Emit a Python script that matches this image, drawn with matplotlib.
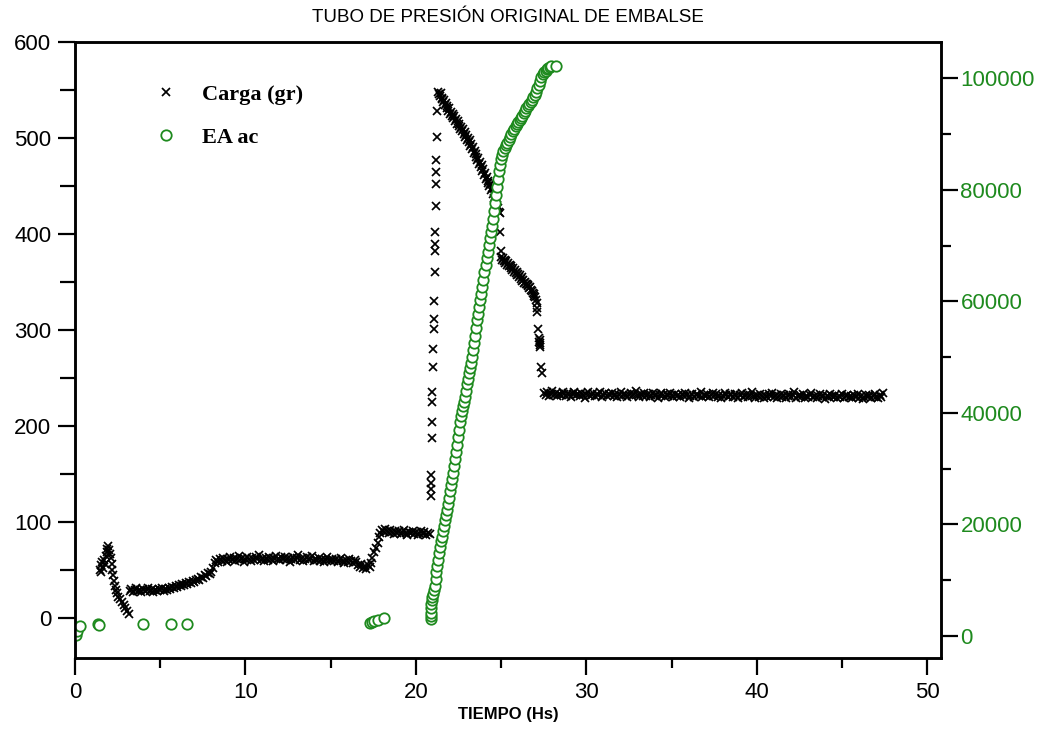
import numpy as np
import matplotlib
matplotlib.use('Agg')
import matplotlib.pyplot as plt
from matplotlib.ticker import MultipleLocator

plt.rcParams['font.family'] = ['Liberation Sans', 'DejaVu Sans']

GREEN = '#1e8a1e'

# ---------------- Carga (gr) ----------------
# irregular stretches, (tiempo, carga)
t_bump = [1.45, 1.5, 1.55, 1.6, 1.65, 1.7, 1.75, 1.8, 1.85, 1.9, 1.95,
          2.0, 2.05, 2.1, 2.15, 2.2, 2.25, 2.3, 2.35, 2.4, 2.45, 2.55,
          2.65, 2.75, 2.85, 2.95, 3.05, 3.15]
c_bump = [50, 55, 48, 58, 52, 60, 56, 64, 68, 72, 75,
          70, 66, 62, 56, 50, 44, 38, 33, 29, 26, 22,
          19, 16, 13, 10, 7, 4]

t_step1 = [16.6, 16.7, 16.8, 16.9, 17.0, 17.1, 17.2, 17.3,
           17.35, 17.45, 17.55, 17.65, 17.75, 17.85]
c_step1 = [55, 53, 56, 52, 54, 51, 55, 53,
           57, 62, 68, 73, 78, 84]

t_spike = [20.86, 20.87, 20.88, 20.9, 20.93, 20.94, 20.96, 20.97, 21.0,
           21.02, 21.03, 21.04, 21.06, 21.09, 21.1, 21.11, 21.13, 21.16,
           21.18, 21.19, 21.2, 21.23, 21.26, 21.28]
c_spike = [127, 134, 140, 149, 187, 204, 225, 235, 261,
           280, 301, 311, 330, 360, 382, 389, 402, 429,
           452, 464, 477, 501, 528, 548]

t_fall = [21.35, 21.4, 21.45, 21.5, 21.55, 21.6, 21.65, 21.7, 21.75, 21.8,
          21.85, 21.9, 21.95, 22.0, 22.05, 22.1, 22.15, 22.2, 22.25, 22.3,
          22.35, 22.4, 22.45, 22.5, 22.55, 22.6, 22.65, 22.7, 22.75, 22.8,
          22.85, 22.9, 22.95, 23.0, 23.05, 23.1, 23.15, 23.2, 23.25, 23.3,
          23.35, 23.4, 23.45, 23.5, 23.55, 23.6, 23.65, 23.7, 23.75, 23.8,
          23.85, 23.9, 23.95, 24.0, 24.05, 24.1, 24.15, 24.2, 24.25, 24.3,
          24.35, 24.4, 24.45, 24.5, 24.55, 24.6, 24.65, 24.7, 24.75, 24.8,
          24.85, 24.92, 24.95, 24.98]
c_fall = [545, 543, 546, 540, 541, 537, 539, 534, 536, 531,
          533, 528, 531, 525, 527, 522, 525, 520, 522, 517,
          519, 514, 517, 512, 514, 509, 511, 507, 509, 504,
          506, 501, 503, 498, 500, 495, 497, 491, 493, 488,
          490, 484, 486, 480, 483, 477, 479, 473, 475, 469,
          471, 465, 467, 461, 463, 457, 459, 453, 455, 450,
          452, 445, 447, 441, 443, 437, 439, 433, 430, 427,
          423, 421, 402, 382]

t_drop = [27.08, 27.09, 27.1, 27.15, 27.22, 27.24, 27.25, 27.26, 27.27,
          27.28, 27.35, 27.37]
c_drop = [328, 322, 318, 301, 291, 287, 284, 289, 282,
          286, 261, 255]

# regular logger stretches: (start time, step, values)
c_low = [28, 30, 27, 29, 31, 28, 29, 27, 30, 28,
         29, 31, 28, 30, 27, 29, 28, 30, 29, 31,
         28, 30, 29, 31, 30, 32, 31, 33, 32, 34,
         33, 35, 34, 36, 35, 37, 36, 38, 37, 39,
         40, 39, 42, 41, 44, 43, 46, 45, 48, 52]          # from 3.2 h
c_60 = [57, 60, 58, 61, 59, 62, 60, 58, 61, 63,
        60, 62, 59, 61, 64, 60, 62, 58, 61, 63,
        61, 59, 62, 60, 63, 61, 65, 60, 62, 59,
        62, 60, 63, 61, 59, 62, 64, 61, 60, 63,
        61, 63, 60, 62, 58, 61, 63, 60, 62, 65,
        60, 62, 59, 61, 63, 60, 62, 64, 59, 61,
        60, 62, 59, 61, 58, 60, 63, 60, 59, 61,
        59, 61, 58, 60, 62, 59, 57, 60, 58, 61,
        59, 57, 60, 58]                                   # from 8.2 h
c_88 = [88, 91, 89, 92, 90, 88, 91, 89, 87, 90,
        88, 90, 87, 89, 91, 88, 86, 89, 88, 90,
        87, 89, 86, 88, 90, 87, 89, 86, 88, 87]           # from 17.9 h
c_370 = [376, 373, 375, 371, 372, 369, 371, 367, 369, 366,
         367, 364, 366, 362, 364, 360, 362, 359, 360, 357,
         358, 355, 357, 353, 355, 351, 352, 349, 350, 347,
         348, 345, 346, 343, 344, 341, 340, 338, 337, 335,
         334, 331]                                        # from 25.0 h, 0.05 step
c_232 = [234, 232, 235, 231, 233, 236, 232, 234, 231, 233,
         232, 235, 233, 231, 234, 232, 230, 233, 235, 232,
         233, 231, 234, 232, 229, 233, 235, 231, 232, 234,
         231, 233, 232, 235, 230, 232, 234, 231, 233, 232,
         234, 231, 233, 230, 232, 235, 231, 233, 232, 230,
         232, 234, 231, 233, 236, 232, 230, 233, 231, 234,
         231, 233, 230, 232, 234, 231, 233, 229, 232, 234,
         232, 230, 233, 231, 234, 232, 230, 233, 231, 232,
         230, 233, 231, 234, 232, 229, 231, 233, 230, 232,
         233, 231, 235, 230, 232, 231, 233, 230, 232, 234,
         231, 233, 230, 232, 229, 231, 234, 232, 230, 233,
         232, 230, 233, 231, 229, 232, 234, 230, 231, 233,
         230, 232, 235, 231, 229, 232, 230, 233, 231, 229,
         232, 230, 233, 231, 234, 230, 232, 229, 231, 233,
         230, 232, 229, 231, 233, 230, 232, 235, 229, 231,
         232, 230, 233, 229, 231, 230, 232, 234, 230, 231,
         229, 231, 233, 230, 232, 228, 231, 230, 233, 231,
         230, 232, 229, 231, 230, 233, 229, 231, 232, 230,
         231, 229, 232, 230, 233, 229, 231, 228, 230, 232,
         230, 232, 229, 231, 233, 230, 229, 232, 230, 234]  # from 27.5 h

logged = [(3.2, 0.1, c_low), (8.2, 0.1, c_60), (17.9, 0.1, c_88),
          (25.0, 0.05, c_370), (27.5, 0.1, c_232)]

# ---------------- EA acumulada ----------------
t_ea = [0.08, 0.1, 0.3, 1.37, 1.42, 3.97, 5.63, 6.55,
        17.3, 17.45, 17.55, 17.75, 18.15,
        20.86, 20.87, 20.88, 20.89, 20.9, 20.92, 20.96, 21.0, 21.05, 21.1,
        21.15, 21.2, 21.25, 21.3, 21.35, 21.4, 21.45, 21.5, 21.56, 21.62,
        21.68, 21.74, 21.8, 21.86, 21.92, 21.98, 22.04, 22.1, 22.16, 22.22,
        22.28, 22.34, 22.4, 22.46, 22.52, 22.58, 22.64, 22.7, 22.76, 22.82,
        22.88, 22.94, 23.0, 23.06, 23.12, 23.18, 23.24, 23.3, 23.36, 23.42,
        23.48, 23.54, 23.6, 23.66, 23.72, 23.78, 23.84, 23.9, 23.96, 24.02,
        24.08, 24.14, 24.2, 24.26, 24.32, 24.38, 24.44, 24.5, 24.56, 24.62,
        24.68, 24.74, 24.8, 24.86, 24.92, 24.98, 25.05, 25.12, 25.2, 25.28,
        25.36, 25.44, 25.52, 25.6, 25.68, 25.76, 25.84, 25.92, 26.0, 26.08,
        26.16, 26.24, 26.32, 26.4, 26.48, 26.56, 26.64, 26.72, 26.8, 26.88,
        26.96, 27.04, 27.12, 27.2, 27.28, 27.36, 27.44, 27.52, 27.6, 27.68,
        27.76, 27.84, 27.92, 28.2]
ea = [150, 800, 1700, 2100, 2000, 2100, 2100, 2100,
      2300, 2500, 2600, 2900, 3300,
      3000, 3500, 4200, 5000, 5800, 6500, 7000, 7600, 8300, 9000,
      10200, 11400, 12600, 13700, 14900, 16000, 17000, 17800, 18800, 19800,
      20800, 21700, 22600, 23700, 24800, 26000, 27100, 28200, 29300, 30500,
      31700, 33000, 34300, 35600, 37000, 38300, 39500, 40400, 41200, 42000,
      42900, 44000, 45100, 46100, 47100, 48000, 49000, 50000, 51200, 52500,
      53800, 55200, 56600, 57800, 59000, 60200, 61400, 62600, 63900, 65200,
      66500, 67700, 68900, 70100, 71300, 72500, 73600, 74800, 76200, 77700,
      79100, 80500, 81900, 83300, 84500, 85500, 86300, 87000, 87600, 88100,
      88500, 89000, 89500, 90000, 90500, 91000, 91400, 91800, 92100, 92500,
      92900, 93300, 93800, 94200, 94600, 95000, 95400, 95800, 96200, 96600,
      97000, 97600, 98200, 98900, 99600, 100200, 100700, 101100, 101400, 101700,
      101900, 102100, 102200, 102200]

# assemble the load record
t_carga = list(t_bump) + list(t_step1) + list(t_spike) + list(t_fall) + list(t_drop)
carga = list(c_bump) + list(c_step1) + list(c_spike) + list(c_fall) + list(c_drop)
for t0, dt, vals in logged:
    t_carga += list(np.round(t0 + dt * np.arange(len(vals)), 3))
    carga += vals

fig = plt.figure(figsize=(10.47, 7.36), dpi=100)
ax1 = fig.add_axes([0.0716, 0.106, 0.8272, 0.8375])
ax2 = ax1.twinx()

l1, = ax1.plot(t_carga, carga, ls='none', marker='x', color='black',
               ms=5.5, mew=1.25, label='Carga (gr)')
l2, = ax2.plot(t_ea, ea, ls='none', marker='o', mfc='white', mec=GREEN,
               ms=7.5, mew=1.3, label='EA ac')

ax1.set_xlim(0, 50.8)
ax1.set_ylim(-42, 600)
ax2.set_ylim(-3950, 106600)

ax1.xaxis.set_major_locator(MultipleLocator(10))
ax1.xaxis.set_minor_locator(MultipleLocator(5))
ax1.yaxis.set_major_locator(MultipleLocator(100))
ax1.yaxis.set_minor_locator(MultipleLocator(50))
ax2.yaxis.set_major_locator(MultipleLocator(20000))
ax2.yaxis.set_minor_locator(MultipleLocator(10000))
ax2.set_yticks([0, 20000, 40000, 60000, 80000, 100000])

for ax in (ax1, ax2):
    for sp in ax.spines.values():
        sp.set_linewidth(1.8)
    ax.tick_params(which='major', direction='out', length=12, width=1.6,
                   labelsize=16, pad=5)
    ax.tick_params(which='minor', direction='out', length=7, width=1.6)
ax1.tick_params(axis='y', which='minor', length=11)
ax2.tick_params(axis='y', which='both', colors='black', labelcolor=GREEN, pad=2)

ax1.set_title('TUBO DE PRESIÓN ORIGINAL DE EMBALSE', fontsize=13.5, pad=14)
ax1.set_xlabel('TIEMPO (Hs)', fontsize=12, fontweight='bold', labelpad=3)

ax2.legend(handles=[l1, l2], loc='upper left', bbox_to_anchor=(0.085, 0.945),
           frameon=False, handlelength=0.8, handletextpad=1.2,
           labelspacing=1.0, borderaxespad=0,
           prop={'family': 'Liberation Serif', 'weight': 'bold', 'size': 16})

fig.savefig('out.png', dpi=100)
